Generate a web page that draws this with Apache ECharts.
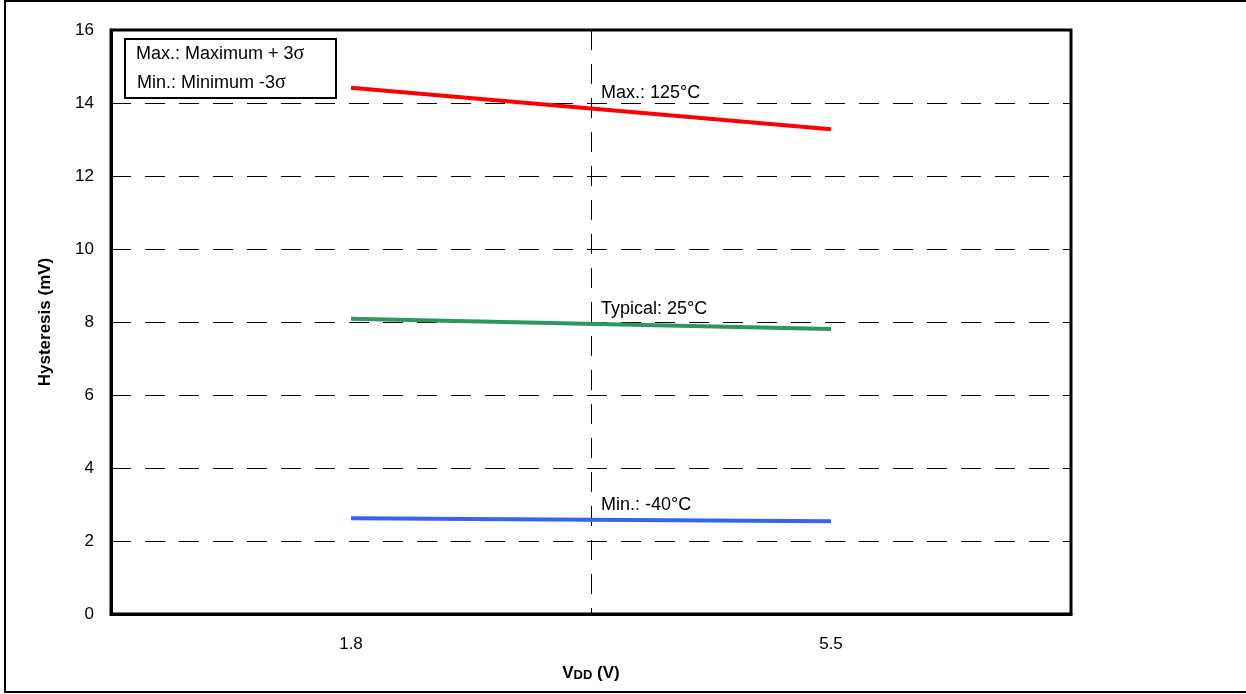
<!DOCTYPE html>
<html>
<head>
<meta charset="utf-8">
<script src="https://cdn.jsdelivr.net/npm/echarts@6/dist/echarts.min.js"></script>
<style>html,body{margin:0;padding:0;background:#fff;}#c{width:1246px;height:694px;}</style>
</head>
<body>
<div id="c"></div>
<script>
const categories = ['1.8', '5.5'];
const maxValues = [14.42, 13.28];
const typValues = [8.09, 7.81];
const minValues = [2.62, 2.54];
const yTicks = [0, 2, 4, 6, 8, 10, 12, 14, 16];
const seriesNames = ['Max.: 125°C', 'Typical: 25°C', 'Min.: -40°C'];

const FONT = 'Liberation Sans, Arial, sans-serif';
const FS = 17;
const chart = echarts.init(document.getElementById('c'), null, {renderer: 'canvas'});

const lineSeries = (name, data, color) => ({
  name, type: 'line', data, symbol: 'none', smooth: false,
  lineStyle: {color, width: 4}, z: 5
});

chart.setOption({
  animation: false,
  backgroundColor: '#fff',
  grid: {left: 111, top: 30, right: 175, bottom: 80, show: true, borderColor: '#000', borderWidth: 3, backgroundColor: 'transparent'},
  xAxis: {
    type: 'category', data: categories, boundaryGap: true,
    axisLine: {show: true, lineStyle: {color: '#000', width: 3}},
    axisTick: {show: false},
    axisLabel: {color: '#000', fontFamily: FONT, fontSize: FS, margin: 22},
    splitLine: {show: true, interval: 0, lineStyle: {color: '#000', width: 1, type: [20, 14]}},
    name: '{v|V}{d|DD}{v| (V)}', nameLocation: 'middle', nameGap: 51,
    nameTextStyle: {rich: {
      v: {fontFamily: FONT, fontSize: FS, fontWeight: 'bold', color: '#000'},
      d: {fontFamily: FONT, fontSize: 13, fontWeight: 'bold', color: '#000', verticalAlign: 'bottom'}
    }}
  },
  yAxis: {
    type: 'value', min: yTicks[0], max: yTicks[yTicks.length - 1], interval: 2,
    axisLine: {show: true, lineStyle: {color: '#000', width: 3}},
    axisTick: {show: false},
    axisLabel: {color: '#000', fontFamily: FONT, fontSize: FS, margin: 17},
    splitLine: {show: true, lineStyle: {color: '#000', width: 1, type: [20, 14]}},
    name: 'Hysteresis (mV)', nameLocation: 'middle', nameGap: 57, nameRotate: 90,
    nameTextStyle: {fontFamily: FONT, fontSize: FS, fontWeight: 'bold', color: '#000'}
  },
  series: [
    lineSeries(seriesNames[0], maxValues, '#ff0000'),
    lineSeries(seriesNames[1], typValues, '#2e9660'),
    lineSeries(seriesNames[2], minValues, '#3366ee')
  ]
});

// all overlay graphics in one call; series labels placed via the chart's own scales
const midX = (chart.convertToPixel({xAxisIndex: 0}, categories[0]) + chart.convertToPixel({xAxisIndex: 0}, categories[1])) / 2;
const allData = [maxValues, typValues, minValues];
const labelGraphics = seriesNames.map((n, i) => {
  const yMid = chart.convertToPixel({yAxisIndex: 0}, (allData[i][0] + allData[i][1]) / 2);
  return {type: 'text', id: 'lbl' + i, x: midX + 10, y: yMid - 6, z: 12,
    style: {text: n, fontFamily: FONT, fontSize: 18, fill: '#000', verticalAlign: 'bottom'}};
});
const rich = {a: {fontFamily: FONT, fontSize: 18, fill: '#000'}, s: {fontFamily: 'Liberation Serif, serif', fontSize: 20, fill: '#000'}};
chart.setOption({
  graphic: [
    {type: 'rect', id: 'outer', shape: {x: 5, y: 1, width: 1300, height: 691}, style: {fill: 'none', stroke: '#000', lineWidth: 2}, silent: true, z: 1},
    {type: 'rect', id: 'box', shape: {x: 125, y: 39, width: 211, height: 59}, style: {fill: '#fff', stroke: '#000', lineWidth: 2}, z: 10},
    {type: 'text', id: 't1', x: 136, y: 54, z: 11, style: {text: '{a|Max.: Maximum + 3}{s|σ}', verticalAlign: 'middle', rich}},
    {type: 'text', id: 't2', x: 137, y: 83, z: 11, style: {text: '{a|Min.: Minimum -3}{s|σ}', verticalAlign: 'middle', rich}}
  ].concat(labelGraphics)
});
</script>
</body>
</html>
